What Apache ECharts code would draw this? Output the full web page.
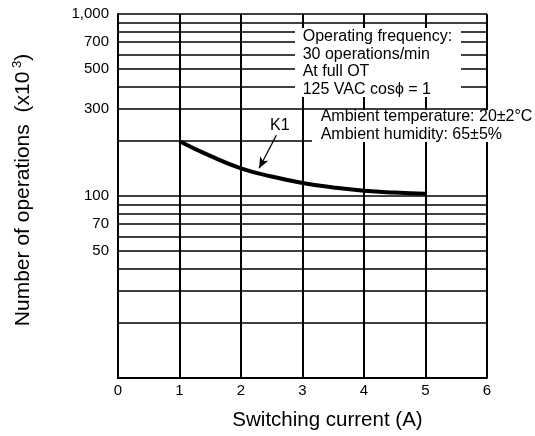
<!DOCTYPE html>
<html>
<head>
<meta charset="utf-8">
<script src="https://cdn.jsdelivr.net/npm/echarts@6/dist/echarts.min.js"></script>
<style>
  html, body { margin: 0; padding: 0; background: #fff; }
  #chart { width: 535px; height: 436px; }
</style>
</head>
<body>
<div id="chart"></div>
<script>
// switching current (A) and life of K1 (x10^3 operations)
const currents = [1, 1.5, 2, 2.5, 3, 3.5, 4, 4.5, 5]
const k1Life = [200, 166, 142, 128, 118, 111.5, 107, 104.5, 103]

// y axis: labelled values and the log grid lines
const yLabels = [50, 70, 100, 300, 500, 700, 1000]
const yGrid = [10, 20, 30, 40, 50, 60, 70, 80, 90, 100, 200, 300, 400, 500, 600, 700, 800, 900, 1000]

// K1 label and its arrow, in data units
const k1LabelAt = [2.63, 245]
const arrowFrom = [2.576, 216]
const arrowTo = [2.295, 142]

const noteOne = ['Operating frequency:', '30 operations/min', 'At full OT', '125 VAC cos\u03d5 = 1']
const noteTwo = ['Ambient temperature: 20\u00b12\u00b0C', 'Ambient humidity: 65\u00b15%']

const font = '"Liberation Sans", Arial, Helvetica, sans-serif'
const chart = echarts.init(document.getElementById('chart'))

chart.setOption({
  backgroundColor: '#fff',
  animation: false,
  grid: {
    left: 118,
    right: 48,
    top: 14,
    bottom: 58,
    outerBoundsMode: 'none'
  },
  xAxis: {
    type: 'value',
    min: 0,
    max: 6,
    interval: 1,
    name: 'Switching current (A)',
    nameLocation: 'middle',
    nameGap: 32,
    nameTextStyle: { fontFamily: font, fontSize: 20.5, color: '#000', padding: [0, 0, 0, 50] },
    axisLine: { lineStyle: { color: '#000', width: 2 } },
    axisTick: { show: false },
    axisLabel: { fontFamily: font, fontSize: 15, color: '#000', margin: 5 },
    splitLine: { lineStyle: { color: '#000', width: 2 } }
  },
  yAxis: {
    type: 'log',
    logBase: 10,
    min: 10,
    max: 1000,
    name: '{a|Number of operations  (x10}{s| 3}{a|)}',
    nameLocation: 'middle',
    nameRotate: 90,
    nameGap: 83,
    nameTextStyle: {
      fontFamily: font,
      color: '#000',
      padding: [0, 0, 0, 12],
      rich: {
        a: { fontFamily: font, fontSize: 21, lineHeight: 24, color: '#000' },
        s: { fontFamily: font, fontSize: 13, lineHeight: 24, verticalAlign: 'top', color: '#000' }
      }
    },
    axisLine: { show: true, lineStyle: { color: '#000', width: 2 } },
    axisTick: { show: false, customValues: yGrid },
    axisLabel: {
      customValues: yLabels,
      fontFamily: font,
      fontSize: 15,
      color: '#000',
      margin: 9,
      formatter: function (v) {
        return v >= 1000 ? Math.round(v).toLocaleString('en-US') : String(Math.round(v))
      }
    },
    splitLine: { show: true, lineStyle: { color: '#000', width: 1.6 } }
  },
  series: [
    {
      name: 'K1',
      type: 'line',
      data: currents.map(function (c, i) { return [c, k1Life[i]] }),
      smooth: true,
      symbol: 'none',
      lineStyle: { color: '#000', width: 4 },
      z: 5,
      markPoint: {
        symbol: 'circle',
        symbolSize: 1,
        itemStyle: { color: 'rgba(0,0,0,0)' },
        label: {
          show: true,
          position: 'inside',
          formatter: 'K1',
          fontFamily: font,
          fontSize: 16,
          color: '#000'
        },
        data: [{ coord: k1LabelAt }]
      },
      markLine: {
        silent: true,
        symbol: ['none', 'arrow'],
        symbolSize: [7, 11],
        label: { show: false },
        lineStyle: { color: '#000', width: 1.2, type: 'solid' },
        data: [[{ coord: arrowFrom }, { coord: arrowTo }]]
      }
    }
  ],
  graphic: [
    {
      type: 'rect',
      shape: { x: 295, y: 28, width: 166, height: 69 },
      style: { fill: '#fff' },
      z: 10
    },
    {
      type: 'text',
      x: 302.7,
      y: 28,
      style: {
        text: noteOne.join('\n'),
        fontFamily: font,
        fontSize: 16,
        lineHeight: 17.5,
        fill: '#000'
      },
      z: 11
    },
    {
      type: 'rect',
      shape: { x: 312, y: 110, width: 223, height: 32 },
      style: { fill: '#fff' },
      z: 10
    },
    {
      type: 'text',
      x: 320.7,
      y: 107.5,
      style: {
        text: noteTwo.join('\n'),
        fontFamily: font,
        fontSize: 16,
        lineHeight: 18.3,
        fill: '#000'
      },
      z: 11
    }
  ]
})
</script>
</body>
</html>
